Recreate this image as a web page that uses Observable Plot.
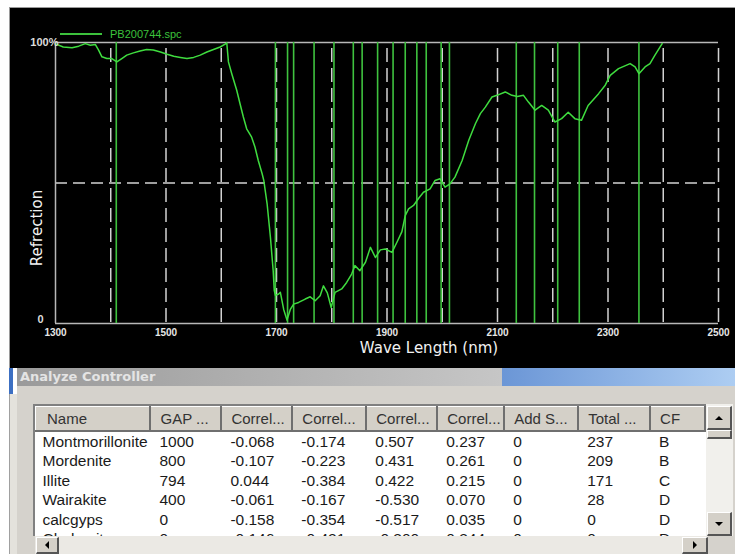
<!DOCTYPE html>
<html>
<head>
<meta charset="utf-8">
<script src="https://cdn.jsdelivr.net/npm/d3@7"></script>
<script src="https://cdn.jsdelivr.net/npm/@observablehq/plot@0.6"></script>
<style>
  html, body { margin: 0; padding: 0; }
  body { width: 735px; height: 554px; position: relative; overflow: hidden; background: #ffffff; font-family: "Liberation Sans", Arial, sans-serif; }
  #chart { position: absolute; left: 9px; top: 7px; border-top: 1px solid #9a9a9a; border-left: 1px solid #9a9a9a; background: #000; }
  #chart svg { display: block; }
  #legend { position: absolute; left: 60px; top: 27px; height: 14px; display: flex; align-items: center; }
  #legend .ln { width: 42px; height: 1.5px; background: #3cc23c; margin-right: 8px; }
  #legend .tx { color: #3cc23c; font-size: 11px; font-family: "Liberation Sans", Arial, sans-serif; }
  #titlebar { position: absolute; left: 17px; top: 368px; width: 718px; height: 18px;
    background: linear-gradient(to right, #9a9a9a 0px, #c6c6c6 485px, #6b96d6 485px, #adcdf2 718px);
    color: #e4e4e4; font: bold 13px "DejaVu Sans", sans-serif; line-height: 18px; padding-left: 3px; box-sizing: border-box; }
  #dialog { position: absolute; left: 17px; top: 386px; width: 718px; height: 168px; background: #d5d2cc; }
  #leftbar { position: absolute; left: 9px; top: 368px; width: 4px; height: 26px; background: #3c6fc2; }
  #leftstrip { position: absolute; left: 9px; top: 394px; width: 8px; height: 160px; background: #e4e2dc; border-left: 1px solid #a0a0a0; box-sizing: border-box; }
  #list { position: absolute; left: 33px; top: 404px; width: 673px; height: 132px; background: #fff; overflow: hidden;
    border-top: 2px solid #808080; border-left: 2px solid #808080; box-sizing: border-box; }
  #list table { border-collapse: collapse; table-layout: fixed; font-size: 15.5px; color: #1a1a1a; }
  #list th { height: 24px; padding: 0 0 0 9px; text-align: left; font-weight: normal; color: #333;
    background: #d4d0c8; border-top: 1px solid #fff; border-left: 1px solid #fff; border-right: 2px solid #6f6f6f; border-bottom: 2px solid #6f6f6f;
    box-sizing: border-box; white-space: nowrap; overflow: hidden; font-size: 15px; }
  #list td { height: 19.5px; padding: 0 0 0 9px; white-space: nowrap; overflow: hidden; line-height: 19.5px; }
  #vscroll { position: absolute; left: 706px; top: 404px; width: 27px; height: 132px; background: #f1f0ec; }
  #hscroll { position: absolute; left: 35px; top: 536px; width: 673px; height: 18px; background: #ebe9e4; }
  #corner { position: absolute; left: 708px; top: 536px; width: 25px; height: 18px; background: #d5d2cc; }
  .btn { position: absolute; background: #d4d0c8; border-top: 1px solid #fff; border-left: 1px solid #fff; border-right: 2px solid #555; border-bottom: 2px solid #555;
    box-sizing: border-box; display: flex; align-items: center; justify-content: center; }
  .up { width: 0; height: 0; border-left: 4px solid transparent; border-right: 4px solid transparent; border-bottom: 4px solid #000; }
  .down { width: 0; height: 0; border-left: 4px solid transparent; border-right: 4px solid transparent; border-top: 4px solid #000; }
  .left { width: 0; height: 0; border-top: 4px solid transparent; border-bottom: 4px solid transparent; border-right: 4px solid #000; }
  .right { width: 0; height: 0; border-top: 4px solid transparent; border-bottom: 4px solid transparent; border-left: 4px solid #000; }
</style>
</head>
<body>
<div id="chart"></div>
<div id="legend"><div class="ln"></div><div class="tx"></div></div>
<div id="leftbar"></div>
<div id="leftstrip"></div>
<div id="titlebar"></div>
<div id="dialog"></div>
<div id="list"></div>
<div id="vscroll">
  <div class="btn" style="left:1px;top:2px;width:25px;height:24px;"><div class="up"></div></div>
  <div class="btn" style="left:1px;top:26px;width:25px;height:9px;"></div>
  <div class="btn" style="left:1px;top:108px;width:25px;height:24px;"><div class="down"></div></div>
</div>
<div id="hscroll">
  <div class="btn" style="left:1px;top:1px;width:23px;height:17px;"><div class="left"></div></div>
  <div class="btn" style="left:647px;top:1px;width:26px;height:17px;"><div class="right"></div></div>
</div>
<div id="corner"></div>
<script>
// ---- Spectrum data (wavelength nm, reflectance %) ----
const wavelength = [1300,1314,1330,1342,1354,1363,1372,1378,1384,1393,1402,1411,1420,1429,1441,1453,1465,1477,1490,1502,1514,1526,1538,1550,1562,1574,1586,1598,1607,1610,1613,1619,1628,1634,1640,1646,1655,1661,1667,1674,1677,1683,1689,1694,1696,1698,1704,1707,1713,1719,1725,1731,1740,1752,1761,1770,1779,1785,1792,1799,1806,1818,1827,1836,1842,1851,1861,1870,1879,1888,1897,1909,1918,1927,1933,1939,1948,1957,1966,1978,1987,1996,2005,2014,2023,2036,2048,2060,2069,2078,2090,2099,2114,2126,2136,2147,2156,2168,2180,2192,2204,2216,2228,2240,2252,2264,2283,2295,2304,2319,2340,2349,2356,2367,2376,2385,2398];
const reflectance = [99.5,98.4,98.1,98.7,99.6,99.0,99.3,97.3,94.9,94.3,94.3,93.1,94.3,95.5,96.3,97.0,97.5,97.3,96.6,95.8,95.1,94.7,94.3,94.7,95.5,96.6,97.5,98.4,99.4,99.9,93.1,88.9,83.0,78.2,73.5,69.3,66.3,62.8,58.0,53.3,50.9,42.6,30.7,18.8,11.7,10.0,10.5,11.1,5.0,1.2,5.0,6.9,7.5,8.7,9.5,8.1,9.9,13.4,10.9,5.7,11.1,12.3,14.6,17.6,20.6,18.8,21.8,27.1,23.5,26.2,26.5,25.3,28.9,32.7,38.4,40.8,42.0,44.5,46.7,47.9,50.9,51.5,48.5,49.7,52.1,58.0,65.2,71.1,74.7,77.0,80.6,81.2,82.4,81.2,80.8,81.2,78.8,75.9,77.6,75.9,71.7,72.9,75.2,72.9,72.3,77.6,81.8,84.8,88.3,90.7,92.5,91.3,88.9,91.3,92.5,95.5,99.6];
// Mineral feature marker lines (nm)
const featureLines = [1410,1698,1720,1731,1768,1804,1839,1855,1883,1911,1933,1954,1971,1998,2013,2134,2167,2209,2248,2356];
// Dashed grid positions
const gridX = [1400,1500,1600,1700,1800,1900,2000,2100,2200,2300,2400,2500];
const gridY = [50];
const xTicks = [1300,1500,1700,1900,2100,2300,2500];
const seriesName = "PB200744.spc";
const xLabel = "Wave Length (nm)";
const yLabel = "Refrection";

// ---- Analyze Controller table ----
const windowTitle = "Analyze Controller";
const columns = ["Name","GAP ...","Correl...","Correl...","Correl...","Correl...","Add S...","Total ...","CF"];
const colWidths = [115,71,71,74,71,67,74,72,55];
const names = ["Montmorillonite","Mordenite","Illite","Wairakite","calcgyps","Chabazite"];
const gap = [1000,800,794,400,0,0];
const correl1 = [-0.068,-0.107,0.044,-0.061,-0.158,-0.146];
const correl2 = [-0.174,-0.223,-0.384,-0.167,-0.354,-0.421];
const correl3 = [0.507,0.431,0.422,-0.530,-0.517,-0.300];
const correl4 = [0.237,0.261,0.215,0.070,0.035,0.344];
const addS = [0,0,0,0,0,0];
const total = [237,209,171,28,0,0];
const cf = ["B","B","C","D","D","D"];

const spectrum = wavelength.map((w, i) => ({w, r: reflectance[i]}));

const chart = Plot.plot({
  width: 725,
  height: 360,
  marginLeft: 45,
  marginRight: 17,
  marginTop: 34,
  marginBottom: 45,
  style: {background: "#000", color: "#e0e0e0", overflow: "visible"},
  x: {domain: [1300, 2500]},
  y: {domain: [0, 100]},
  marks: [
    Plot.ruleX(gridX, {stroke: "#d2d2d2", strokeWidth: 1.5, strokeDasharray: "14,6", strokeDashoffset: -6}),
    Plot.ruleY(gridY, {stroke: "#d2d2d2", strokeWidth: 1.5, strokeDasharray: "12,6"}),
    Plot.ruleX([1300], {stroke: "#b8b8b8", strokeWidth: 1.5}),
    Plot.ruleY([0, 100], {stroke: "#b8b8b8", strokeWidth: 1.5}),
    Plot.ruleX(featureLines, {stroke: "#3fc23f", strokeWidth: 1.6}),
    Plot.line(spectrum, {x: "w", y: "r", stroke: "#3fdc3f", strokeWidth: 1.5}),
    Plot.axisX({ticks: xTicks, tickSize: 0, tickPadding: 5, tickFormat: d => String(d), label: null,
      fontSize: 10, fontWeight: "bold", fill: "#e6e6e6", fontFamily: "Liberation Sans, Arial, sans-serif"}),
    Plot.axisY({ticks: [100], tickSize: 0, tickPadding: -3, tickFormat: () => "100%", label: null,
      fontSize: 11, fontWeight: "bold", fill: "#dcdcdc", fontFamily: "Liberation Sans, Arial, sans-serif"}),
    Plot.axisY({ticks: [0], tickSize: 0, tickPadding: 12, dy: -4, tickFormat: () => "0", label: null,
      fontSize: 11, fontWeight: "bold", fill: "#dcdcdc", fontFamily: "Liberation Sans, Arial, sans-serif"}),
    Plot.text([xLabel], {frameAnchor: "bottom", dx: 42, dy: 29, fill: "#f2f2f2", fontSize: 15,
      fontFamily: "DejaVu Sans, sans-serif", textAnchor: "middle"}),
    Plot.text([yLabel], {frameAnchor: "left", rotate: -90, dx: -18, dy: 45, fill: "#f2f2f2", fontSize: 15,
      fontFamily: "DejaVu Sans, sans-serif", textAnchor: "middle"})
  ]
});
document.getElementById("chart").appendChild(chart);
document.querySelector("#legend .tx").textContent = seriesName;
document.getElementById("titlebar").textContent = windowTitle;

// Build table
const fmt = v => v.toFixed(3);
const rows = names.map((n, i) => [n, gap[i], fmt(correl1[i]), fmt(correl2[i]), fmt(correl3[i]), fmt(correl4[i]), addS[i], total[i], cf[i]]);
const table = d3.select("#list").append("table");
table.append("colgroup").selectAll("col").data(colWidths).join("col").style("width", d => d + "px");
table.append("thead").append("tr").selectAll("th").data(columns).join("th").text(d => d)
  .style("padding-left", (d, i) => i === 0 ? "11px" : "9px");
table.append("tbody").selectAll("tr").data(rows).join("tr")
  .selectAll("td").data(d => d).join("td").text(d => d)
  .style("padding-left", (d, i) => i === 0 ? "7px" : "9px");
</script>
</body>
</html>
